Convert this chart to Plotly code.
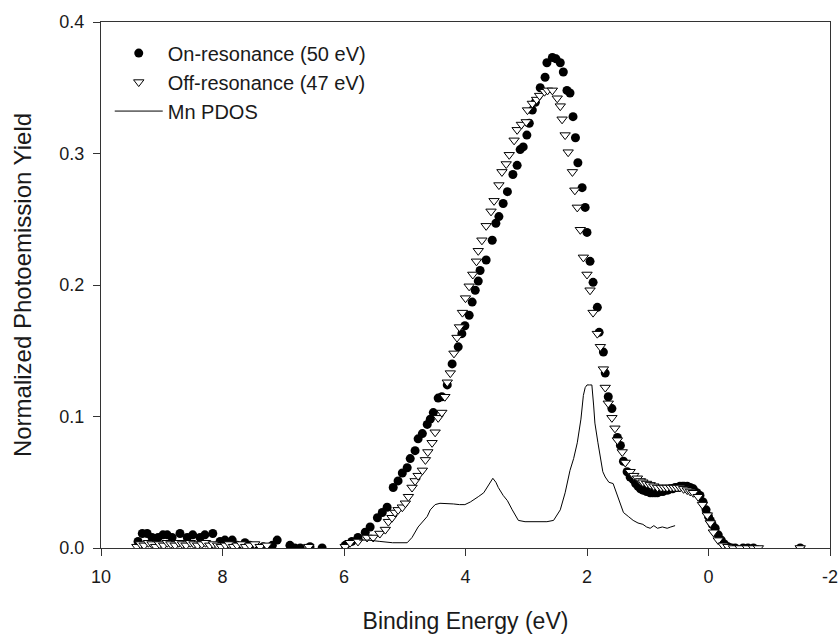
import plotly.graph_objects as go

# On-resonance (50 eV)
on_x = [9.39, 9.32, 9.24, 9.16, 9.06, 8.98, 8.91, 8.83, 8.70, 8.58, 8.49, 8.37, 8.29, 8.16,
        8.04, 7.96, 7.84, 7.76, 7.63, 7.55, 7.43, 7.33, 7.18, 7.10, 6.89, 6.81, 6.72, 6.56, 6.36,
        5.98, 5.87, 5.77, 5.65, 5.57, 5.45, 5.37, 5.29, 5.19, 5.11, 5.04, 4.96, 4.91, 4.83, 4.78,
        4.71, 4.63, 4.58, 4.53, 4.45, 4.39, 4.30, 4.22, 4.12, 4.06, 4.01, 3.94, 3.89, 3.84, 3.79,
        3.76, 3.66, 3.56, 3.50, 3.45, 3.38, 3.31, 3.22, 3.15, 3.10, 3.05, 2.99, 2.95, 2.90, 2.85,
        2.77, 2.69, 2.66, 2.57, 2.51, 2.44, 2.39, 2.33, 2.28, 2.23, 2.19, 2.15, 2.08, 2.03, 2.00,
        1.95, 1.90, 1.83, 1.80, 1.73, 1.70, 1.65, 1.59, 1.50, 1.45, 1.40, 1.34, 1.29, 1.24, 1.20,
        1.16, 1.12, 1.08, 1.02, 0.96, 0.92, 0.88, 0.84, 0.80, 0.75, 0.71, 0.67, 0.63, 0.59, 0.55,
        0.51, 0.47, 0.43, 0.40, 0.35, 0.30, 0.25, 0.19, 0.14, 0.09, 0.04, 0.00, -0.03, -0.06,
        -0.11, -0.16, -0.21, -0.26, -0.32, -0.38, -0.44, -0.57, -0.65, -0.74, -1.51]
on_y = [0.005, 0.011, 0.011, 0.008, 0.008, 0.010, 0.010, 0.008, 0.011, 0.008, 0.010, 0.008, 0.010, 0.011,
        0.005, 0.006, 0.006, 0.002, 0.004, 0.002, 0.000, 0.001, 0.002, 0.006, 0.002, 0.000, 0.000, 0.001, 0.000,
        0.002, 0.005, 0.008, 0.012, 0.016, 0.023, 0.027, 0.031, 0.046, 0.051, 0.057, 0.061, 0.068, 0.074, 0.083,
        0.087, 0.094, 0.098, 0.103, 0.114, 0.115, 0.124, 0.140, 0.153, 0.163, 0.169, 0.177, 0.187, 0.196, 0.203,
        0.211, 0.219, 0.234, 0.247, 0.252, 0.262, 0.271, 0.284, 0.291, 0.303, 0.305, 0.314, 0.323, 0.333, 0.339,
        0.350, 0.358, 0.369, 0.373, 0.372, 0.369, 0.362, 0.348, 0.346, 0.328, 0.312, 0.293, 0.274, 0.259, 0.240,
        0.218, 0.202, 0.183, 0.164, 0.149, 0.133, 0.115, 0.106, 0.084, 0.078, 0.066, 0.058, 0.054, 0.052, 0.049,
        0.047, 0.045, 0.044, 0.043, 0.042, 0.042, 0.042, 0.042, 0.043, 0.043, 0.044, 0.044, 0.045, 0.045, 0.046,
        0.046, 0.047, 0.047, 0.047, 0.047, 0.046, 0.045, 0.042, 0.040, 0.035, 0.029, 0.024, 0.021, 0.018,
        0.015, 0.010, 0.006, 0.003, 0.001, 0.000, 0.000, 0.000, 0.000, 0.000, 0.000]

# Off-resonance (47 eV)
off_x = [9.41, 9.35, 9.29, 9.22, 9.16, 9.10, 9.04, 8.97, 8.91, 8.85, 8.78, 8.72, 8.66, 8.60, 8.53,
         8.47, 8.41, 8.34, 8.28, 8.21, 8.15, 8.08, 8.02, 7.95, 7.89, 7.82, 7.76, 7.69, 7.62, 7.55,
         7.47, 7.38, 7.27, 6.58,
         5.98, 5.90, 5.77, 5.62, 5.52, 5.41, 5.32, 5.27, 5.21, 5.16, 5.11, 5.04, 4.99, 4.94, 4.88,
         4.83, 4.78, 4.71, 4.66, 4.62, 4.55, 4.50, 4.45, 4.39, 4.34, 4.30, 4.25, 4.19, 4.14, 4.10,
         4.05, 4.00, 3.94, 3.88, 3.82, 3.79, 3.73, 3.66, 3.58, 3.53, 3.45, 3.40, 3.33, 3.28, 3.20,
         3.15, 3.08, 3.00, 2.98, 2.90, 2.83, 2.78, 2.70, 2.65, 2.57, 2.49, 2.44, 2.41, 2.36, 2.31,
         2.24, 2.20, 2.16, 2.11, 2.06, 2.00, 1.95, 1.90, 1.83, 1.78, 1.73, 1.70, 1.65, 1.59, 1.54,
         1.50, 1.42, 1.37, 1.29, 1.23, 1.17, 1.12, 1.08, 1.02, 0.96, 0.90, 0.84, 0.78, 0.73, 0.68,
         0.62, 0.57, 0.52, 0.47, 0.41, 0.35, 0.30, 0.25, 0.17, 0.10, 0.02, -0.03, -0.08, -0.16,
         -0.24, -0.32, -0.41, -0.52, -0.64, -0.74, -0.82, -1.51]
off_y = [0.001, 0.003, 0.002, 0.004, 0.003, 0.001, 0.003, 0.002, 0.004, 0.003, 0.002, 0.004, 0.003, 0.002, 0.004,
         0.003, 0.002, 0.003, 0.004, 0.002, 0.003, 0.002, 0.001, 0.002, 0.003, 0.001, 0.002, 0.003, 0.001, 0.002,
         0.003, 0.001, 0.002, 0.001,
         0.001, 0.004, 0.005, 0.008, 0.008, 0.011, 0.014, 0.020, 0.023, 0.027, 0.029, 0.031, 0.034, 0.039, 0.046,
         0.051, 0.055, 0.059, 0.067, 0.073, 0.080, 0.088, 0.099, 0.103, 0.115, 0.126, 0.133, 0.148, 0.160, 0.168,
         0.179, 0.190, 0.199, 0.208, 0.218, 0.226, 0.234, 0.245, 0.256, 0.264, 0.276, 0.286, 0.292, 0.299, 0.310,
         0.318, 0.322, 0.324, 0.333, 0.338, 0.341, 0.344, 0.347, 0.348, 0.348, 0.342, 0.336, 0.326, 0.314, 0.301,
         0.286, 0.272, 0.259, 0.242, 0.221, 0.208, 0.196, 0.179, 0.163, 0.153, 0.136, 0.122, 0.110, 0.099, 0.091,
         0.082, 0.073, 0.065, 0.058, 0.055, 0.053, 0.051, 0.050, 0.049, 0.048, 0.047, 0.046, 0.046, 0.046, 0.046,
         0.046, 0.046, 0.046, 0.046, 0.045, 0.044, 0.043, 0.042, 0.039, 0.033, 0.025, 0.019, 0.012, 0.006,
         0.002, 0.001, 0.000, 0.000, 0.000, 0.000, 0.000, 0.000]

# Mn PDOS
pdos_x = [5.75, 5.60, 5.41, 5.20, 4.96, 4.88, 4.78, 4.70, 4.63, 4.58, 4.50, 4.42, 4.30, 4.20, 4.10,
          4.01, 3.92, 3.85, 3.79, 3.70, 3.64, 3.58, 3.55, 3.50, 3.46, 3.38, 3.31, 3.23, 3.13, 3.02,
          2.94, 2.80, 2.66, 2.55, 2.44, 2.36, 2.28, 2.22, 2.16, 2.10, 2.06, 2.03, 2.00, 1.96, 1.92,
          1.89, 1.87, 1.82, 1.78, 1.74, 1.70, 1.64, 1.57, 1.50, 1.45, 1.40, 1.32, 1.24, 1.16, 1.08,
          1.02, 0.96, 0.90, 0.84, 0.76, 0.68, 0.62, 0.55]
pdos_y = [0.006, 0.006, 0.005, 0.004, 0.004, 0.008, 0.016, 0.020, 0.024, 0.029, 0.033, 0.034, 0.034, 0.0335, 0.033,
          0.033, 0.035, 0.037, 0.039, 0.042, 0.046, 0.051, 0.053, 0.050, 0.046, 0.040, 0.036, 0.029, 0.021, 0.020,
          0.020, 0.020, 0.020, 0.021, 0.029, 0.042, 0.059, 0.068, 0.080, 0.098, 0.116, 0.122, 0.124, 0.124, 0.124,
          0.108, 0.095, 0.080, 0.069, 0.058, 0.054, 0.050, 0.049, 0.040, 0.033, 0.027, 0.024, 0.021, 0.019, 0.018,
          0.016, 0.015, 0.017, 0.015, 0.016, 0.015, 0.016, 0.017]

x_ticks = [10, 8, 6, 4, 2, 0, -2]
y_ticks = [0.0, 0.1, 0.2, 0.3, 0.4]

FONT = "Liberation Sans, Arial, Helvetica, sans-serif"
INK = "#1a1a1a"

fig = go.Figure()
fig.add_trace(go.Scatter(x=on_x, y=on_y, mode="markers", name="On-resonance (50 eV)",
                         marker=dict(symbol="circle", size=9, color="black", line=dict(width=0))))
fig.add_trace(go.Scatter(x=off_x, y=off_y, mode="markers", name="Off-resonance (47 eV)",
                         marker=dict(symbol="triangle-down", size=9, color="white",
                                     line=dict(color="black", width=1))))
fig.add_trace(go.Scatter(x=pdos_x, y=pdos_y, mode="lines", name="Mn PDOS",
                         line=dict(color="black", width=1)))

tick_font = dict(family=FONT, size=18, color=INK)
fig.update_layout(
    width=840, height=635,
    margin=dict(l=101, r=10, t=22, b=87),
    paper_bgcolor="white", plot_bgcolor="white",
    font=dict(family=FONT, color=INK),
    showlegend=True,
    legend=dict(x=0.012, y=0.978, xanchor="left", yanchor="top",
                bgcolor="rgba(0,0,0,0)", font=dict(family=FONT, size=20, color=INK),
                itemwidth=48, tracegroupgap=0),
    xaxis=dict(range=[10, -2], tickvals=x_ticks, ticktext=[str(t) for t in x_ticks],
               showgrid=False, zeroline=False, showline=True, linecolor="#333", linewidth=1.2,
               mirror=True, ticks="outside", ticklen=7, tickcolor="#333", tickfont=tick_font,
               ticklabelstandoff=5, automargin=False,
               title=dict(text="Binding Energy (eV)", font=dict(family=FONT, size=23, color=INK), standoff=27)),
    yaxis=dict(range=[0, 0.4], tickvals=y_ticks, ticktext=["%.1f" % t for t in y_ticks],
               showgrid=False, zeroline=False, showline=True, linecolor="#333", linewidth=1.2,
               mirror=True, ticks="outside", ticklen=7, tickcolor="#333", tickfont=tick_font,
               ticklabelstandoff=5, automargin=False,
               title=dict(text="Normalized Photoemission Yield", font=dict(family=FONT, size=24, color=INK), standoff=20)),
)

fig.write_html("out.html", post_script="document.body.style.margin='0';",
               config={"displayModeBar": False})
